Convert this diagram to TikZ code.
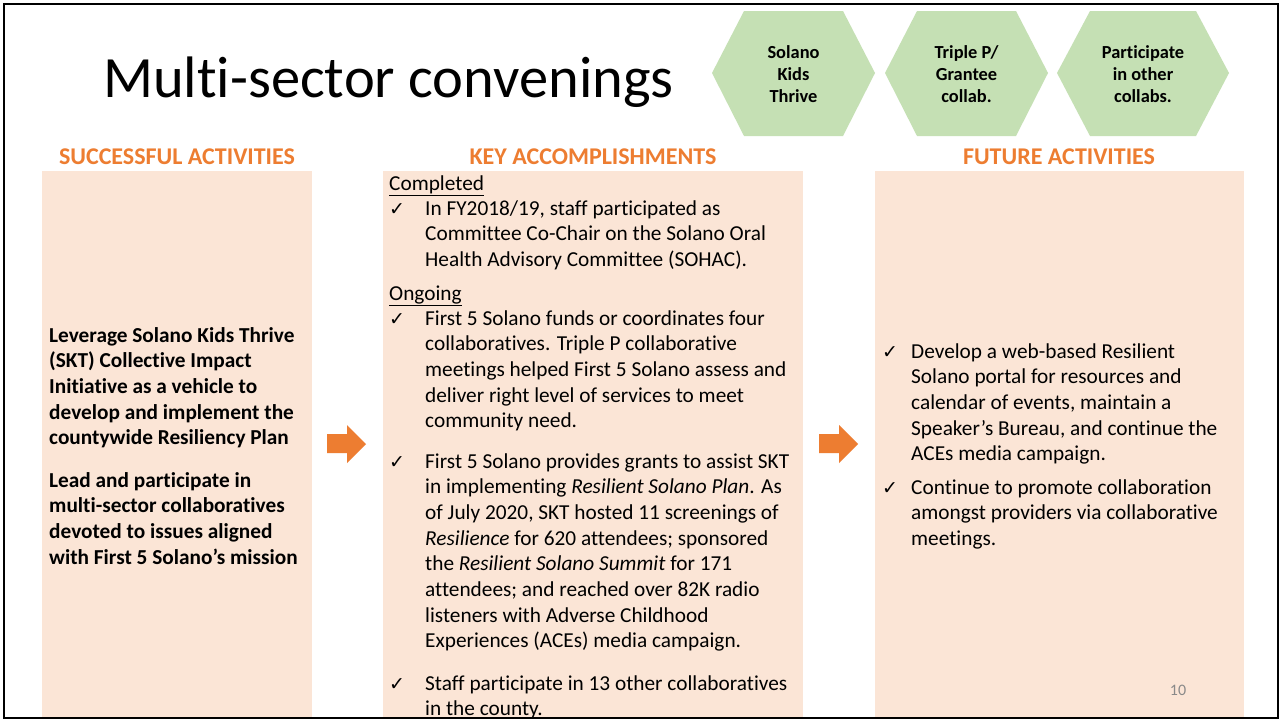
\documentclass[tikz,border=0pt]{standalone}
\usepackage{fontspec}
\setmainfont{Carlito}[Ligatures=NoCommon]
\newfontfamily\symfont{DejaVu Sans}
\definecolor{peach}{HTML}{FBE5D6}
\definecolor{hexgreen}{HTML}{C5E0B4}
\definecolor{accent}{HTML}{ED7D31}
\definecolor{pagegrey}{HTML}{898989}
\newcommand{\ck}{{\symfont\fontsize{19}{19}\selectfont ✓}}
\begin{document}
\begin{tikzpicture}[x=1pt,y=-1pt,
  panel/.style={fill=peach, draw=none},
  hexbox/.style={fill=hexgreen, draw=none},
  hextext/.style={font=\bfseries\fontsize{18.4}{22}\selectfont, align=center, inner sep=0pt},
  header/.style={font=\bfseries\fontsize{24}{28}\selectfont, text=accent, inner sep=0pt, anchor=base},
  body/.style={font=\fontsize{21.3}{25.7}\selectfont, inner sep=0pt, anchor=base west},
  boldbody/.style={font=\bfseries\fontsize{21.3}{25.7}\selectfont, inner sep=0pt, anchor=base west},
  checkm/.style={inner sep=0pt, anchor=base west},
  blockarrow/.style={fill=accent, draw=none}
]
\useasboundingbox (0,0) rectangle (1281,721);
\fill[white] (0,0) rectangle (1281,721);

% panels
\path[panel] (42,171) rectangle (312,718);
\path[panel] (383,171) rectangle (803,718);
\path[panel] (875,171) rectangle (1244,718);

% title
\node[font=\fontsize{58.5}{66}\selectfont, inner sep=0pt, anchor=base west] (title) at (103,97) {Multi-sector convenings};

% hexagons
\path[hexbox] (712,73) -- (744,11) -- (843,11) -- (875,73) -- (843,136) -- (744,136) -- cycle;
\path[hexbox] (885,73) -- (917,11) -- (1016,11) -- (1048,73) -- (1016,136) -- (917,136) -- cycle;
\path[hexbox] (1057,73) -- (1090,11) -- (1196,11) -- (1229,73) -- (1196,136) -- (1090,136) -- cycle;
\node[hextext] (hexA) at (793.5,74) {Solano\\Kids\\Thrive};
\node[hextext] (hexB) at (966.5,74) {Triple P/\\Grantee\\collab.};
\node[hextext] (hexC) at (1143,74) {Participate\\in other\\collabs.};

% headers
\node[header] (h1) at (177,164) {SUCCESSFUL ACTIVITIES};
\node[header] (h2) at (593,164) {KEY ACCOMPLISHMENTS};
\node[header] (h3) at (1059,164) {FUTURE ACTIVITIES};

% left panel
\node[boldbody] (l1) at (49,342) {\parbox[t]{262pt}{\raggedright Leverage Solano Kids Thrive\\(SKT) Collective Impact\\Initiative as a vehicle to\\develop and implement the\\countywide Resiliency Plan}};
\node[boldbody] (l2) at (49,487) {\parbox[t]{262pt}{\raggedright Lead and participate in\\multi-sector collaboratives\\devoted to issues aligned\\with First 5 Solano’s mission}};

% middle panel
\node[body] (completed) at (389,190) {\underline{Completed}};
\node[checkm] (c1) at (389,215) {\ck};
\node[body] (m1) at (425,215) {\parbox[t]{380pt}{\raggedright In FY2018/19, staff participated as\\Committee Co-Chair on the Solano Oral\\Health Advisory Committee (SOHAC).}};
\node[body] (ongoing) at (389,300) {\underline{Ongoing}};
\node[checkm] (c2) at (389,325) {\ck};
\node[body] (m2) at (425,325) {\parbox[t]{380pt}{\raggedright First 5 Solano funds or coordinates four\\collaboratives. Triple P collaborative\\meetings helped First 5 Solano assess and\\deliver right level of services to meet\\community need.}};
\node[checkm] (c3) at (389,468) {\ck};
\node[body] (m3) at (425,468) {\parbox[t]{380pt}{\raggedright First 5 Solano provides grants to assist SKT\\in implementing \textit{Resilient Solano Plan}. As\\of July 2020, SKT hosted 11 screenings of\\\textit{Resilience} for 620 attendees; sponsored\\the \textit{Resilient Solano Summit} for 171\\attendees; and reached over 82K radio\\listeners with Adverse Childhood\\Experiences (ACEs) media campaign.}};
\node[checkm] (c4) at (389,690) {\ck};
\node[body] (m4) at (425,690) {\parbox[t]{380pt}{\raggedright Staff participate in 13 other collaboratives\\in the county.}};

% right panel
\node[checkm] (c5) at (882,358) {\ck};
\node[body] (r1) at (911,358) {\parbox[t]{330pt}{\raggedright Develop a web-based Resilient\\Solano portal for resources and\\calendar of events, maintain a\\Speaker’s Bureau, and continue the\\ACEs media campaign.}};
\node[checkm] (c6) at (882,494) {\ck};
\node[body] (r2) at (911,494) {\parbox[t]{330pt}{\raggedright Continue to promote collaboration\\amongst providers via collaborative\\meetings.}};

% block arrows
\path[blockarrow] (327,434) -- (347,434) -- (347,425) -- (366,444) -- (347,463) -- (347,453) -- (327,453) -- cycle;
\path[blockarrow] (819,434) -- (839,434) -- (839,425) -- (858,444) -- (839,463) -- (839,453) -- (819,453) -- cycle;

% page number
\node[font=\fontsize{16}{18}\selectfont, text=pagegrey, inner sep=0pt] (pnum) at (1178,690) {10};

% frame
\draw[line width=2.5pt, black] (4,4) rectangle (1278,718);
\end{tikzpicture}
\end{document}
